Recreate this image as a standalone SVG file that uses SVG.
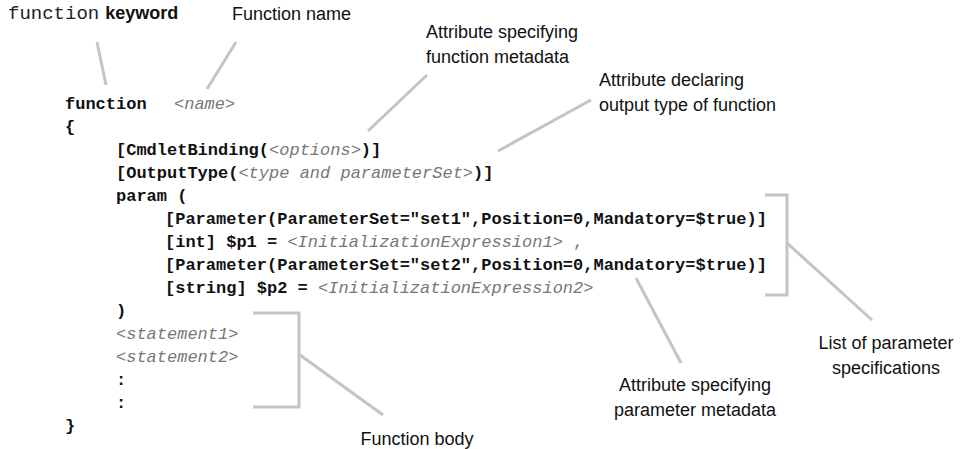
<svg xmlns="http://www.w3.org/2000/svg" width="968" height="449" viewBox="0 0 968 449">
<style>
.lbl{font-family:"Liberation Sans",Arial,sans-serif;font-size:18px;fill:#111}
.code{font-family:"Liberation Mono","Courier New",monospace;font-size:17px;font-weight:bold;fill:#111}
.ph{font-weight:normal;font-style:italic;fill:#777}
.plain{font-weight:normal;fill:#777}
.conn{stroke:#c4c4c4;stroke-width:3;fill:none}
</style>
<rect width="968" height="449" fill="#fff"/>
<g id="code">
<text class="code" x="65" y="109">function</text>
<text class="code ph" x="174" y="109">&lt;name&gt;</text>
<text class="code" x="65" y="132">{</text>
<text class="code" x="116" y="155">[CmdletBinding(<tspan class="ph">&lt;options&gt;</tspan>)]</text>
<text class="code" x="116" y="178">[OutputType(<tspan class="ph">&lt;type and parameterSet&gt;</tspan>)]</text>
<text class="code" x="116" y="201">param (</text>
<text class="code" x="165" y="224">[Parameter(ParameterSet="set1",Position=0,Mandatory=$true)]</text>
<text class="code" x="165" y="247" xml:space="preserve">[int] $p1 = <tspan class="ph">&lt;InitializationExpression1&gt;</tspan><tspan class="plain"> ,</tspan></text>
<text class="code" x="165" y="270">[Parameter(ParameterSet="set2",Position=0,Mandatory=$true)]</text>
<text class="code" x="165" y="293" xml:space="preserve">[string] $p2 = <tspan class="ph">&lt;InitializationExpression2&gt;</tspan></text>
<text class="code" x="116" y="316">)</text>
<text class="code ph" x="116" y="339">&lt;statement1&gt;</text>
<text class="code ph" x="116" y="362">&lt;statement2&gt;</text>
<text class="code" x="116" y="385">:</text>
<text class="code" x="116" y="408">:</text>
<text class="code" x="65" y="431">}</text>
</g>
<g id="label-function-keyword">
<text x="8" y="19"><tspan style="font-family:'Liberation Mono','Courier New',monospace;font-size:19px;fill:#222">function</tspan><tspan class="lbl" dx="6" style="font-weight:bold">keyword</tspan></text>
</g>
<g id="label-function-name"><text class="lbl" x="232" y="20">Function name</text></g>
<g id="label-attr-function-metadata">
<text class="lbl" x="426" y="38">Attribute specifying</text>
<text class="lbl" x="426" y="63">function metadata</text>
</g>
<g id="label-attr-output-type">
<text class="lbl" x="599" y="86">Attribute declaring</text>
<text class="lbl" x="599" y="111">output type of function</text>
</g>
<g id="label-param-list">
<text class="lbl" x="886" y="349" text-anchor="middle">List of parameter</text>
<text class="lbl" x="886" y="374" text-anchor="middle">specifications</text>
</g>
<g id="label-attr-param-metadata">
<text class="lbl" x="695" y="391" text-anchor="middle">Attribute specifying</text>
<text class="lbl" x="695" y="416" text-anchor="middle">parameter metadata</text>
</g>
<g id="label-function-body"><text class="lbl" x="417" y="445" text-anchor="middle">Function body</text></g>
<g id="connectors">
<line class="conn" x1="97" y1="42" x2="106" y2="85"/>
<line class="conn" x1="236" y1="42" x2="207" y2="89"/>
<line class="conn" x1="427" y1="75" x2="368" y2="131"/>
<line class="conn" x1="591" y1="100" x2="498" y2="151"/>
<polyline class="conn" points="765,195 787,195 787,295 765,295"/>
<line class="conn" x1="787" y1="243" x2="872" y2="320"/>
<line class="conn" x1="636" y1="278" x2="681" y2="363"/>
<polyline class="conn" points="253,313 299,313 299,407 253,407"/>
<line class="conn" x1="300" y1="355" x2="383" y2="415"/>
</g>
</svg>
